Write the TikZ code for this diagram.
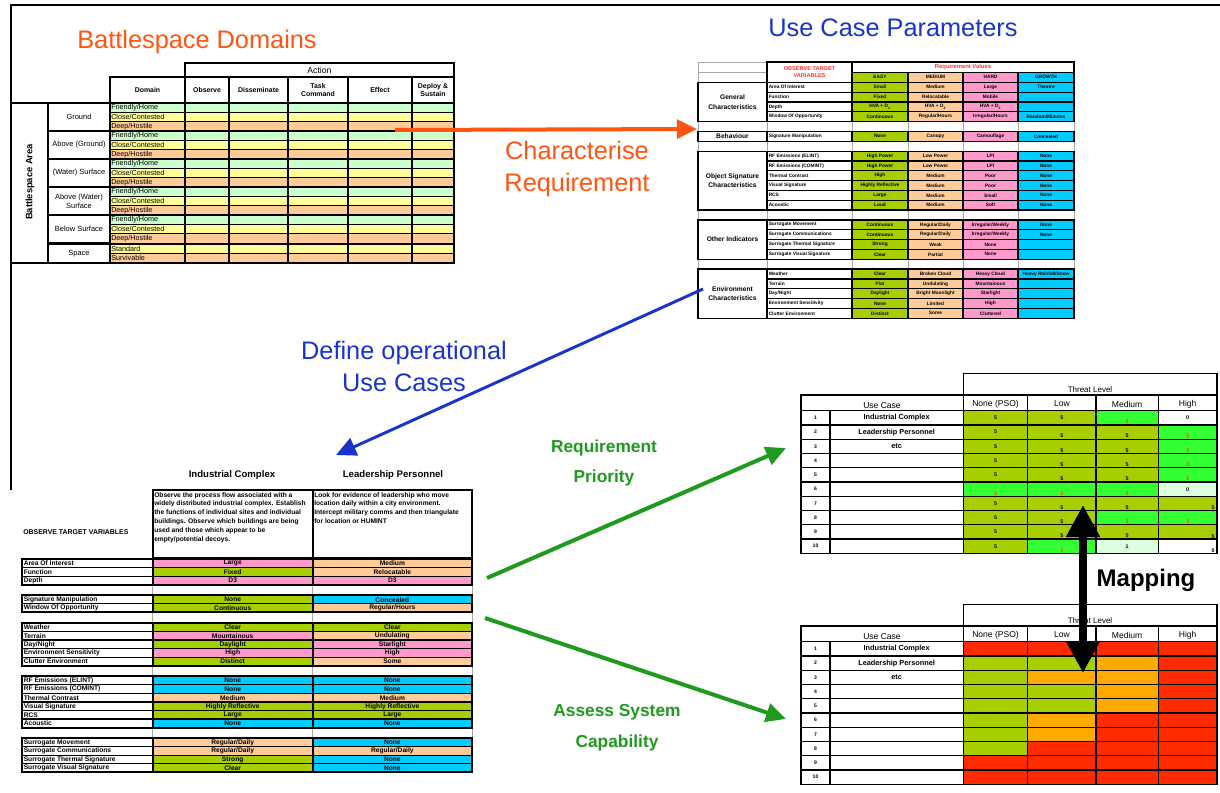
\documentclass[tikz,border=0pt]{standalone}
\usepackage{fontspec}
\setmainfont{Liberation Sans}
\setsansfont{Liberation Sans}
\usetikzlibrary{arrows.meta, positioning, calc}
\definecolor{cgreen}{HTML}{A6CE00}
\definecolor{cpeach}{HTML}{FFCC99}
\definecolor{cpink}{HTML}{FF99CC}
\definecolor{csky}{HTML}{00CCFF}
\definecolor{cmint}{HTML}{CCFFCC}
\definecolor{cyellow}{HTML}{FFFF99}
\definecolor{clime}{HTML}{33FF33}
\definecolor{cpale}{HTML}{DDFFDD}
\definecolor{cred}{HTML}{FF2A00}
\definecolor{camber}{HTML}{FFAA00}
\definecolor{corangetxt}{HTML}{FF5511}
\definecolor{cbluetxt}{HTML}{1A33CC}
\definecolor{cgreentxt}{HTML}{1E9A1E}
\definecolor{cthree}{HTML}{E06000}
\definecolor{cheadred}{HTML}{FF3333}
\newcommand{\tsz}[1]{\fontsize{#1}{\fpeval{1.2*#1}}\selectfont}
\newcommand{\tszs}[2]{\fontsize{#1}{#2}\selectfont}
\newcommand{\tn}[1]{\raisebox{-3pt}{\textcolor{cthree}{#1}}}
\newcommand{\lo}[1]{\raisebox{-3pt}{#1}}
\newcommand{\rt}[1]{\rlap{\hspace{18pt}\raisebox{-3.5pt}{#1}}}
\tikzset{
  every picture/.style={x=0.75pt, y=-0.75pt},
  tline/.style={draw=black, line width=0.9pt},
  fline/.style={draw=black, line width=1.6pt},
  gline/.style={draw=black!35, line width=0.4pt},
  txt/.style={inner sep=0pt, font=\bfseries\tsz{#1}},
  txt/.default=4,
  rtxt/.style={inner sep=0pt, font=\tsz{#1}},
  rtxt/.default=5,
  title/.style={font=\tszs{19}{24}},
  flow/.style={line width=3pt, -{Triangle[length=15pt, width=14pt]}},
}
\begin{document}
\begin{tikzpicture}
  \useasboundingbox (0,0) rectangle (1220,792);
  \draw[line width=2.2pt] (11,490) -- (11,5) -- (1220,5);

  % battlespace domains
  \node[title, text=corangetxt] (domTitle) at (197,42) {Battlespace Domains};
  \draw[fline] (185,62.7) rectangle (454,77);
  \node[rtxt=6.5] (act) at (319.5,70.5) {Action};
  \foreach \xa/\xb/\lab [count=\i] in {110/185/Domain, 185/229/Observe, 229/288/Disseminate,
      288/348/{Task\\Command}, 348/412/Effect, 412/454/{Deploy \&\\Sustain}} {
    \draw[fline] (\xa,77) rectangle (\xb,103);
    \node[txt=5.2, align=center] (dh\i) at ({(\xa+\xb)/2},90) {\lab};
  }
  \foreach \g/\gname in {0/Ground, 1/{Above (Ground)}, 2/{(Water) Surface},
      3/{Above (Water)\\Surface}, 4/{Below Surface}} {
    \foreach \j/\rname/\rcol in {0/{Friendly/Home}/cmint, 1/{Close/Contested}/cyellow, 2/{Deep/Hostile}/cpeach} {
      \pgfmathsetmacro{\yr}{103+9.33*(3*\g+\j)}
      \fill[\rcol] (110,\yr) rectangle (454,\yr+9.33);
      \draw[tline] (110,\yr) -- (454,\yr);
      \node[rtxt=5.4, anchor=west] (dr\g\j) at (111,\yr+4.9) {\rname};
    }
    \draw[fline] (48,103+28*\g) rectangle (110,131+28*\g);
    \node[rtxt=5.6, align=center] (dg\g) at (79,117+28*\g) {\gname};
  }
  \foreach \j/\rname/\rcol in {0/Standard/cyellow, 1/Survivable/cpeach} {
    \pgfmathsetmacro{\yr}{243.9+9.33*\j}
    \fill[\rcol] (110,\yr) rectangle (454,\yr+9.33);
    \draw[tline] (110,\yr) -- (454,\yr);
    \node[rtxt=5.4, anchor=west] (ds\j) at (111,\yr+4.9) {\rname};
  }
  \draw[fline] (48,243.9) rectangle (110,262.6);
  \node[rtxt=5.6] (dg5) at (79,253.3) {Space};
  \foreach \xc in {185,229,288,348,412} \draw[tline] (\xc,103) -- (\xc,262.6);
  \draw[fline] (110,103) rectangle (454,262.6);
  \draw[fline] (11,103) rectangle (48,262.6);
  \node[txt=7, rotate=90] (area) at (30,182) {Battlespace Area};

  % use case parameters
  \node[title, text=cbluetxt] (parTitle) at (893,28) {Use Case Parameters};
  \draw[gline] (698,62) rectangle (767,72.3) (698,72.3) rectangle (767,82.3);
  \draw[tline] (767,62) rectangle (852,82.3);
  \node[txt=4.2, text=cheadred, align=center] (otv) at (809.5,72.2) {OBSERVE TARGET\\VARIABLES};
  \draw[tline] (852,62) rectangle (1074,72.3);
  \node[txt=4.4, text=cheadred] (rv) at (963,67.2) {Requirement Values};
  \foreach \xa/\xb/\lab/\fc in {852/908/EASY/cgreen, 908/963/MEDIUM/cpeach, 963/1018/HARD/cpink, 1018/1074/GROWTH/csky} {
    \draw[tline, fill=\fc] (\xa,72.3) rectangle (\xb,82.3);
    \node[txt=3.6] (ph\lab) at ({(\xa+\xb)/2},77.3) {\lab};
  }
  \foreach \r in {4,6,13,18} {
    \pgfmathsetmacro{\yr}{82.3+9.83*\r}
    \draw[gline] (698,\yr) rectangle (1074,\yr+9.83);
    \foreach \xc in {767,852,908,963,1018} \draw[gline] (\xc,\yr) -- (\xc,\yr+9.83);
  }
  \foreach \r/\lab/\va/\vb/\vc/\vd in {
      0/{Area Of Interest}/Small/Medium/Large/Theatre,
      1/Function/Fixed/Relocatable/Mobile/{},
      2/Depth/{HVA + D\textsubscript{1}}/{HVA + D\textsubscript{2}}/{HVA + D\textsubscript{3}}/{},
      3/{Window Of Opportunity}/Continuous/{Regular/Hours}/{Irregular/Hours}/{Random/Minutes},
      5/{Signature Manipulation}/None/Canopy/Camouflage/Concealed,
      7/{RF Emissions (ELINT)}/{High Power}/{Low Power}/LPI/None,
      8/{RF Emissions (COMINT)}/{High Power}/{Low Power}/LPI/None,
      9/{Thermal Contrast}/High/Medium/Poor/None,
      10/{Visual Signature}/{Highly Reflective}/Medium/Poor/None,
      11/RCS/Large/Medium/Small/None,
      12/Acoustic/Loud/Medium/Soft/None,
      14/{Surrogate Movement}/Continuous/{Regular/Daily}/{Irregular/Weekly}/None,
      15/{Surrogate Communications}/Continuous/{Regular/Daily}/{Irregular/Weekly}/None,
      16/{Surrogate Thermal Signature}/Strong/Weak/None/{},
      17/{Surrogate Visual Signature}/Clear/Partial/None/{},
      19/Weather/Clear/{Broken Cloud}/{Heavy Cloud}/{Heavy Rainfall/Snow},
      20/Terrain/Flat/Undulating/Mountainous/{},
      21/{Day/Night}/Daylight/{Bright Moonlight}/Starlight/{},
      22/{Environment Sensitivity}/None/Limited/High/{},
      23/{Clutter Environment}/Distinct/Some/Cluttered/{}} {
    \pgfmathsetmacro{\yr}{82.3+9.83*\r}
    \draw[tline] (767,\yr) rectangle (852,\yr+9.83);
    \node[txt=3.6, anchor=west] (pv\r) at (768.5,\yr+4.9) {\lab};
    \foreach \xa/\xb/\val/\fc [count=\cn] in {852/908/\va/cgreen, 908/963/\vb/cpeach, 963/1018/\vc/cpink, 1018/1074/\vd/csky} {
      \draw[tline, fill=\fc] (\xa,\yr) rectangle (\xb,\yr+9.83);
      \node[txt=3.6] (pv\r-\cn) at ({(\xa+\xb)/2},\yr+4.9) {\val};
    }
  }
  \foreach \ra/\rb/\cat in {0/4/{General\\[1.2pt]Characteristics}, 5/1/Behaviour,
      7/6/{Object Signature\\[1.2pt]Characteristics}, 14/4/{Other Indicators},
      19/5/{Environment\\[1.2pt]Characteristics}} {
    \draw[tline] (698,82.3+9.83*\ra) rectangle (767,82.3+9.83*\ra+9.83*\rb);
    \node[txt=5, align=center] (pc\ra) at (732.5,82.3+9.83*\ra+4.915*\rb) {\cat};
  }

  % use cases
  \node[txt=7.2] (icHead) at (232,475) {Industrial Complex};
  \node[txt=7.2] (lpHead) at (393,475) {Leadership Personnel};
  \draw[fline] (152.7,490) rectangle (312.7,558.3);
  \draw[fline] (312.7,490) rectangle (472,558.3);
  \node[inner sep=0pt, font=\bfseries\tszs{5}{6.65}, anchor=north west, align=left] (icDesc) at (154,492)
    {Observe the process flow associated with a\\widely distributed industrial complex. Establish\\the functions of individual sites and individual\\buildings. Observe which buildings are being\\used and those which appear to be\\empty/potential decoys.};
  \node[inner sep=0pt, font=\bfseries\tszs{5}{6.65}, anchor=north west, align=left] (lpDesc) at (314,492)
    {Look for evidence of leadership who move\\location daily within a city environment.\\Intercept military comms and then triangulate\\for location or HUMINT};
  \node[txt=5.2, anchor=west] (otvB) at (23,532) {OBSERVE TARGET VARIABLES};
  \foreach \ya/\yb in {584.65/595.25, 612.35/622.95, 665.7/676.3, 727.6/738.2}
    \foreach \xc in {152.7,312.7,472} \draw[gline] (\xc,\ya) -- (\xc,\yb);
  \foreach \y/\lab/\va/\ca/\vb/\cb [count=\i] in {
      559/{Area Of Interest}/Large/cpink/Medium/cpeach,
      567.55/Function/Fixed/cgreen/Relocatable/cpeach,
      576.1/Depth/D3/cpink/D3/cpink,
      595.25/{Signature Manipulation}/None/cgreen/Concealed/csky,
      603.8/{Window Of Opportunity}/Continuous/cgreen/{Regular/Hours}/cpeach,
      622.95/Weather/Clear/cgreen/Clear/cgreen,
      631.5/Terrain/Mountainous/cpink/Undulating/cpeach,
      640.05/{Day/Night}/Daylight/cgreen/Starlight/cpink,
      648.6/{Environment Sensitivity}/High/cpink/High/cpink,
      657.15/{Clutter Environment}/Distinct/cgreen/Some/cpeach,
      676.3/{RF Emissions (ELINT)}/None/csky/None/csky,
      684.85/{RF Emissions (COMINT)}/None/csky/None/csky,
      693.4/{Thermal Contrast}/Medium/cpeach/Medium/cpeach,
      701.95/{Visual Signature}/{Highly Reflective}/cgreen/{Highly Reflective}/cgreen,
      710.5/RCS/Large/cgreen/Large/cgreen,
      719.05/Acoustic/None/csky/None/csky,
      738.2/{Surrogate Movement}/{Regular/Daily}/cpeach/None/csky,
      746.75/{Surrogate Communications}/{Regular/Daily}/cpeach/{Regular/Daily}/cpeach,
      755.3/{Surrogate Thermal Signature}/Strong/cgreen/None/csky,
      763.85/{Surrogate Visual Signature}/Clear/cgreen/None/csky} {
    \draw[tline] (22,\y) rectangle (152.7,\y+8.55);
    \node[txt=5, anchor=west] (ul\i) at (23.5,\y+4.4) {\lab};
    \draw[tline, fill=\ca] (152.7,\y) rectangle (312.7,\y+8.55);
    \node[txt=5] (ua\i) at (232.7,\y+4.4) {\va};
    \draw[tline, fill=\cb] (312.7,\y) rectangle (472,\y+8.55);
    \node[txt=5] (ub\i) at (392.35,\y+4.4) {\vb};
  }
  \foreach \ya/\yb in {559/584.65, 595.25/612.35, 622.95/665.7, 676.3/727.6, 738.2/772.4}
    \draw[fline] (22,\ya) rectangle (152.7,\yb) (152.7,\ya) rectangle (312.7,\yb) (312.7,\ya) rectangle (472,\yb);

  % threat level tables (priority, capability)
  \foreach \r/\ca/\cb/\cc/\cd/\va/\vb/\vc/\vd in {
      1/cgreen/cgreen/clime/white/5/5/\tn{3}/0,
      2/cgreen/cgreen/cgreen/clime/5/\lo{5}/\lo{5}/\tn{3},
      3/cgreen/cgreen/cgreen/clime/5/\lo{5}/\lo{5}/\tn{3},
      4/cgreen/cgreen/cgreen/clime/5/\lo{5}/\lo{5}/\tn{3},
      5/cgreen/cgreen/cgreen/clime/5/\lo{5}/\lo{5}/\tn{3},
      6/clime/clime/clime/cpale/\tn{3}/\tn{3}/\tn{3}/0,
      7/cgreen/cgreen/cgreen/cgreen/5/\lo{5}/\lo{5}/\rt{5},
      8/cgreen/cgreen/clime/clime/5/\lo{5}/\tn{3}/\tn{3},
      9/cgreen/cgreen/cgreen/cgreen/5/\lo{5}/\lo{5}/\rt{5},
      10/cgreen/clime/cpale/white/5/\tn{3}/1/\rt{0}} {
    \pgfmathsetmacro{\yr}{410.7+14.26*(\r-1)}
    \foreach \xa/\xb/\fc/\val [count=\cn] in {963.3/1027.7/\ca/\va, 1027.7/1096/\cb/\vb, 1096/1158.3/\cc/\vc, 1158.3/1217/\cd/\vd} {
      \draw[tline, fill=\fc] (\xa,\yr) rectangle (\xb,\yr+14.26);
      \node[txt=4, anchor=base] (pr\r-\cn) at ({(\xa+\xb)/2},\yr+9) {\val};
    }
  }
  \foreach \r/\ca/\cb/\cc/\cd in {1/cred/cred/cred/cred, 2/cgreen/cgreen/camber/cred, 3/cgreen/camber/camber/cred,
      4/cgreen/cgreen/camber/cred, 5/cgreen/cgreen/camber/cred, 6/cgreen/camber/cred/cred,
      7/cgreen/camber/cred/cred, 8/cgreen/cred/cred/cred, 9/cred/cred/cred/cred, 10/cred/cred/cred/cred} {
    \pgfmathsetmacro{\yr}{641.7+14.26*(\r-1)}
    \foreach \xa/\xb/\fc in {963.3/1027.7/\ca, 1027.7/1096/\cb, 1096/1158.3/\cc, 1158.3/1217/\cd}
      \draw[tline, fill=\fc] (\xa,\yr) rectangle (\xb,\yr+14.26);
  }
  \foreach \dy/\tb in {0/pr, 231/ca} {
    \begin{scope}[shift={(0,\dy)}]
      \draw[tline] (963.3,373.3) rectangle (1217,395);
      \node[rtxt=6] (\tb thr) at (1090,389.5) {Threat Level};
      \draw[tline] (801,395) rectangle (963.3,410.7);
      \node[rtxt=6.4] (\tb uc) at (882,405.5) {Use Case};
      \foreach \xa/\xb/\lab [count=\cn] in {963.3/1027.7/None (PSO), 1027.7/1096/Low, 1096/1158.3/Medium, 1158.3/1217/High} {
        \draw[tline] (\xa,395) rectangle (\xb,410.7);
        \node[rtxt=6.4] (\tb h\cn) at ({(\xa+\xb)/2},404) {\lab};
      }
      \foreach \r in {1,...,10} {
        \draw[tline] (801,396.44+14.26*\r) rectangle (830,410.7+14.26*\r);
        \node[txt=3.8] (\tb n\r) at (815.5,403.57+14.26*\r) {\r};
        \draw[tline] (830,396.44+14.26*\r) rectangle (963.3,410.7+14.26*\r);
      }
      \node[txt=5.5] (\tb r1) at (896.6,417.8) {Industrial Complex};
      \node[txt=5.5] (\tb r2) at (896.6,432.1) {Leadership Personnel};
      \node[txt=5.5] (\tb r3) at (896.6,446.3) {etc};
    \end{scope}
  }

  % connectors
  \coordinate (domOut) at (395,130);
  \coordinate (parIn) at (697,129);
  \coordinate (envOut) at (703,289);
  \coordinate (casesIn) at (336,455);
  \coordinate (casesOutA) at (487,578);
  \coordinate (prioIn) at (786,448);
  \coordinate (casesOutB) at (485,618);
  \coordinate (capIn) at (786,719);
  \coordinate (mapTop) at (1083,505);
  \coordinate (mapBot) at (1083,673);
  \draw[flow, draw=corangetxt] (domOut) -- (parIn);
  \draw[flow, draw=cbluetxt, line width=2.2pt] (envOut) -- (casesIn);
  \draw[flow, draw=cgreentxt] (casesOutA) -- (prioIn);
  \draw[flow, draw=cgreentxt] (casesOutB) -- (capIn);
  \draw[line width=6pt, {Triangle[length=24pt, width=24pt]}-{Triangle[length=24pt, width=24pt]}] (mapTop) -- (mapBot);
  \node[title, text=corangetxt, align=center] (charLab) at (577,169) {Characterise\\Requirement};
  \node[title, text=cbluetxt, align=center] (defLab) at (404,366) {Define operational\\Use Cases};
  \node[font=\bfseries\tszs{13}{23}, text=cgreentxt, align=center] (reqLab) at (604,463) {Requirement\\Priority};
  \node[font=\bfseries\tszs{13}{23}, text=cgreentxt, align=center] (assLab) at (617,728) {Assess System\\Capability};
  \node[font=\bfseries\tsz{18}] (mapLab) at (1146,580) {Mapping};
\end{tikzpicture}
\end{document}
